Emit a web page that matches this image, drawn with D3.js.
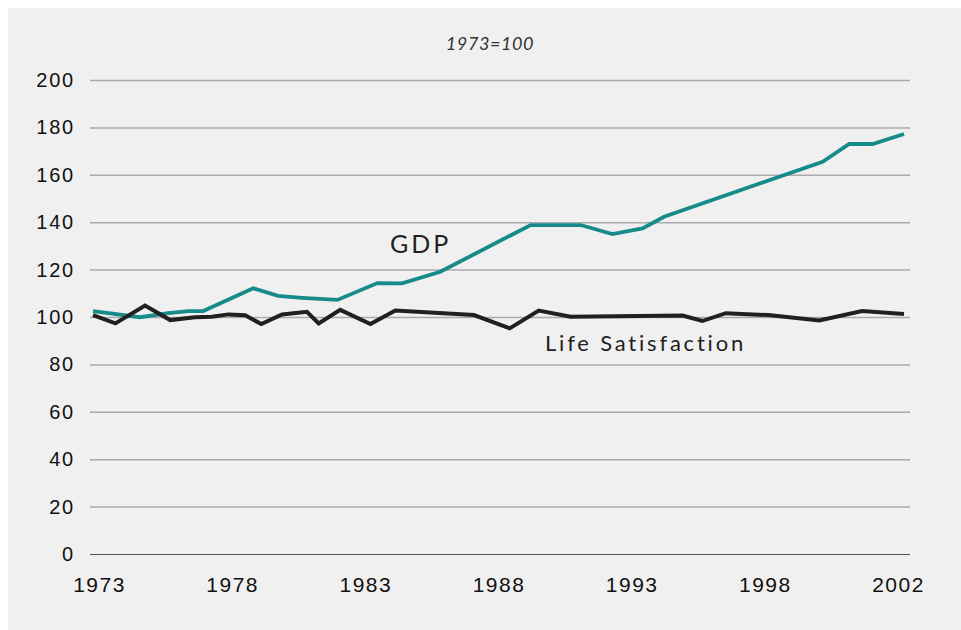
<!DOCTYPE html>
<html>
<head>
<meta charset="utf-8">
<script src="https://cdn.jsdelivr.net/npm/d3@7"></script>
<style>
  body { margin: 0; background: #fff; }
  svg { display: block; font-family: Lato, "Open Sans", sans-serif; }
</style>
</head>
<body>
<script>
// values (years are fractional where the points fall between years)
const gdpYears = [1973, 1974.68, 1975.69, 1976.4, 1976.94, 1978.73, 1979.62, 1980.47, 1981.74, 1983.17,
  1984.05, 1985.42, 1988.65, 1990.44, 1991.57, 1992.65, 1993.42, 1999.09, 2000.04, 2000.88, 2002];
const gdpValues = [102.5, 99.9, 101.6, 102.5, 102.5, 112.1, 108.9, 108.1, 107.2, 114.3,
  114.2, 119.1, 138.8, 138.8, 135.0, 137.4, 142.3, 165.5, 173.0, 173.0, 177.2];

const lifeYears = [1973, 1973.8, 1974.86, 1975.76, 1976.65, 1977.25, 1977.84, 1978.44, 1979.02, 1979.76,
  1980.65, 1981.07, 1981.84, 1982.92, 1983.81, 1986.62, 1987.9, 1988.94, 1990.08, 1994.08,
  1994.79, 1995.63, 1997.15, 1998.97, 2000.5, 2002];
const lifeValues = [100.8, 97.3, 104.8, 98.7, 99.9, 100.1, 101.1, 100.7, 97.0, 101.1,
  102.2, 97.3, 103.0, 97.0, 102.7, 100.8, 95.2, 102.7, 100.1, 100.6,
  98.3, 101.6, 100.8, 98.5, 102.5, 101.3];

const xTickLabels = ['1973', '1978', '1983', '1988', '1993', '1998', '2002'];
const yTicks = [0, 20, 40, 60, 80, 100, 120, 140, 160, 180, 200];

const width = 961;
const height = 630;
const margin = { left: 90, right: 910, top: 80, bottom: 554 };

const svg = d3.select('body').append('svg')
  .attr('width', width)
  .attr('height', height);

// panel background
svg.append('rect')
  .attr('x', 8).attr('y', 8)
  .attr('width', width - 8).attr('height', height - 8)
  .attr('fill', '#f0f0f0');

const yScale = d3.scaleLinear().domain([0, 200]).range([margin.bottom, margin.top]);
const xScale = d3.scaleLinear().domain([1973, 2002]).range([93, 904]);
// the category labels sit evenly spaced, like the original
const xLabelScale = d3.scalePoint().domain(xTickLabels).range([99, 898]);

// subtitle
svg.append('text')
  .attr('x', 490).attr('y', 50)
  .attr('text-anchor', 'middle')
  .attr('font-size', 18)
  .attr('font-style', 'italic')
  .attr('letter-spacing', 0.6)
  .attr('fill', '#333')
  .text('1973=100');

// y axis + grid
const yAxisG = svg.append('g')
  .attr('transform', `translate(${margin.left},0)`)
  .call(d3.axisLeft(yScale).tickValues(yTicks).tickSize(-(margin.right - margin.left)).tickPadding(15));
yAxisG.select('.domain').remove();
yAxisG.selectAll('.tick line')
  .attr('stroke', d => d === 0 ? '#555' : '#aaa')
  .attr('stroke-width', d => d === 0 ? 1.2 : 1.5);
yAxisG.selectAll('.tick text')
  .attr('font-size', 20)
  .attr('letter-spacing', 1.8)
  .attr('fill', '#111');

// x axis labels
const xAxisG = svg.append('g')
  .attr('transform', `translate(0,${margin.bottom})`)
  .call(d3.axisBottom(xLabelScale).tickSize(0).tickPadding(23));
xAxisG.select('.domain').remove();
xAxisG.selectAll('.tick text')
  .attr('font-size', 21)
  .attr('letter-spacing', 1.5)
  .attr('fill', '#111');

const line = d3.line()
  .x(d => xScale(d[0]))
  .y(d => yScale(d[1]));

const gdpData = gdpYears.map((y, i) => [y, gdpValues[i]]);
const lifeData = lifeYears.map((y, i) => [y, lifeValues[i]]);

svg.append('path')
  .datum(gdpData)
  .attr('d', line)
  .attr('fill', 'none')
  .attr('stroke', '#178a8a')
  .attr('stroke-width', 3.8)
  .attr('stroke-linejoin', 'miter');

svg.append('path')
  .datum(lifeData)
  .attr('d', line)
  .attr('fill', 'none')
  .attr('stroke', '#231f20')
  .attr('stroke-width', 4)
  .attr('stroke-linejoin', 'miter');

// series labels
svg.append('text')
  .attr('x', 390).attr('y', 253)
  .attr('font-size', 25)
  .attr('letter-spacing', 3)
  .attr('fill', '#231f20')
  .text('GDP');

svg.append('text')
  .attr('x', 545).attr('y', 351)
  .attr('font-size', 22)
  .attr('letter-spacing', 2.8)
  .attr('fill', '#231f20')
  .text('Life Satisfaction');
</script>
</body>
</html>
